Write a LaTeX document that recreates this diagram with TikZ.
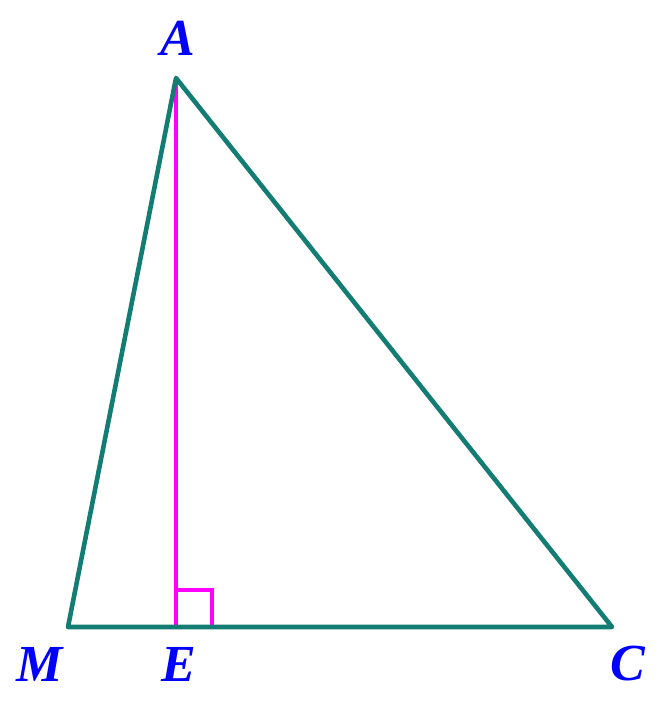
\documentclass[tikz,border=0pt]{standalone}
\usepackage{fontspec}
\setmainfont{Liberation Serif}
\definecolor{sidecol}{RGB}{20,125,115}
\definecolor{altcol}{RGB}{255,0,255}
\definecolor{labcol}{RGB}{0,0,255}
\tikzset{
    side/.style={draw=sidecol, line width=2.3pt, line join=round},
    altitude/.style={draw=altcol, line width=2pt},
    ptlabel/.style={text=labcol, font=\fontsize{26}{30}\selectfont\bfseries\itshape, inner sep=0pt}
}
\begin{document}
\begin{tikzpicture}[x=0.5pt, y=-0.5pt]
        \useasboundingbox (0, 0) rectangle (660, 718);

        \coordinate (A) at (176, 78);
        \coordinate (M) at (68, 627);
        \coordinate (C) at (612, 627);
        \coordinate (E) at (176, 627);

        \draw[altitude] (A) -- (E);
        \draw[altitude] (E) ++(0, -37) -- ++(36, 0) -- ++(0, 37);
        \draw[side] (A) -- (M) -- (C) -- cycle;

        \node[ptlabel] (labA) at (178, 38) {A};
        \node[ptlabel] (labM) at (40, 664) {M};
        \node[ptlabel] (labE) at (179, 664) {E};
        \node[ptlabel] (labC) at (628, 664) {C};

    \end{tikzpicture}
\end{document}
